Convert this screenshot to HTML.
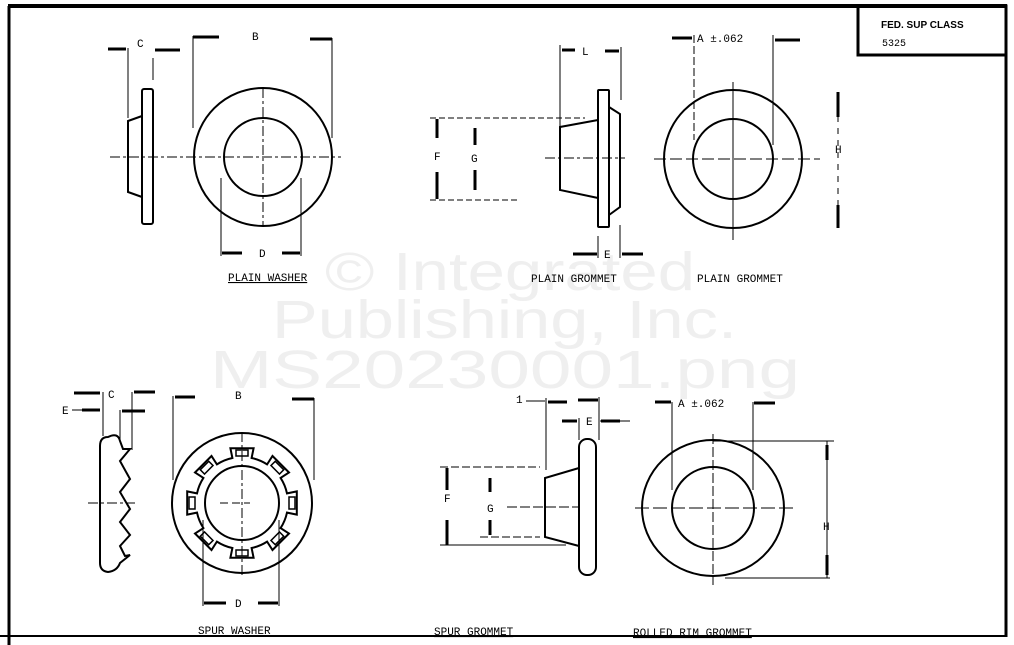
<!DOCTYPE html>
<html><head><meta charset="utf-8"><style>
html,body{margin:0;padding:0;background:#fff;}
svg{display:block}
text{font-family:"Liberation Mono",monospace;font-size:11px;fill:#000}
.wm{font-family:"Liberation Sans",sans-serif;font-size:54px;fill:#efefef}
</style></head><body>
<svg width="1014" height="645" viewBox="0 0 1014 645" xmlns="http://www.w3.org/2000/svg">
<rect width="1014" height="645" fill="#fff"/>
<text class="wm" x="325" y="290" textLength="370" lengthAdjust="spacingAndGlyphs">© Integrated</text>
<text class="wm" x="272" y="338" textLength="465" lengthAdjust="spacingAndGlyphs">Publishing, Inc.</text>
<text class="wm" x="210" y="388" textLength="590" lengthAdjust="spacingAndGlyphs">MS20230001.png</text>
<g stroke="#000" fill="none">
<!-- border -->
<line x1="8" y1="6" x2="1007" y2="6" stroke-width="4"/>
<line x1="9" y1="6" x2="9" y2="645" stroke-width="3"/>
<line x1="1006" y1="6" x2="1006" y2="637" stroke-width="3"/>
<line x1="0" y1="636" x2="1007" y2="636" stroke-width="2"/>
<rect x="858" y="6" width="148" height="49" stroke-width="3"/>

<!-- PLAIN WASHER -->
<g stroke-width="2">
<rect x="142" y="89" width="11" height="135" rx="2"/>
<polyline points="142,116 128,121 128,192 142,197"/>
<circle cx="263" cy="157" r="69"/>
<circle cx="263" cy="157" r="39"/>
</g>
<g stroke-width="1">
<line x1="110" y1="157" x2="341" y2="157" stroke-dasharray="10,3,3,3"/>
<line x1="263" y1="88" x2="263" y2="226" stroke-dasharray="10,3,3,3"/>
<line x1="128" y1="48" x2="128" y2="118"/><line x1="153" y1="58" x2="153" y2="80"/>
<line x1="193" y1="36" x2="193" y2="128"/><line x1="332" y1="38" x2="332" y2="138"/>
<line x1="221" y1="178" x2="221" y2="256"/><line x1="301" y1="178" x2="301" y2="256"/>
</g>
<g stroke-width="3">
<line x1="108" y1="49" x2="126" y2="49"/><line x1="155" y1="50" x2="180" y2="50"/>
<line x1="193" y1="37" x2="219" y2="37"/><line x1="310" y1="39" x2="332" y2="39"/>
<line x1="222" y1="253" x2="242" y2="253"/><line x1="282" y1="253" x2="300" y2="253"/>
</g>

<!-- PLAIN GROMMET side -->
<g stroke-width="2">
<rect x="598" y="90" width="11" height="137" rx="1"/>
<polyline points="598,120 560,127 560,190 598,198"/>
<polyline points="609,107 620,114 620,207 609,215"/>
</g>
<g stroke-width="1">
<line x1="560" y1="45" x2="560" y2="128"/><line x1="621" y1="47" x2="621" y2="100"/>
<line x1="598" y1="236" x2="598" y2="258"/><line x1="620" y1="225" x2="620" y2="258"/>
<line x1="430" y1="118" x2="585" y2="118" stroke-dasharray="6,3"/>
<line x1="430" y1="200" x2="520" y2="200" stroke-dasharray="6,3"/>
<line x1="545" y1="158" x2="625" y2="158" stroke-dasharray="10,3,3,3"/>
</g>
<g stroke-width="3">
<line x1="562" y1="50" x2="575" y2="50"/><line x1="605" y1="51" x2="619" y2="51"/>
<line x1="573" y1="254" x2="597" y2="254"/><line x1="622" y1="254" x2="643" y2="254"/>
<line x1="437" y1="119" x2="437" y2="138"/><line x1="437" y1="172" x2="437" y2="199"/>
<line x1="475" y1="128" x2="475" y2="145"/><line x1="475" y1="170" x2="475" y2="190"/>
</g>

<!-- PLAIN GROMMET front -->
<g stroke-width="2">
<circle cx="733" cy="159" r="69"/>
<circle cx="733" cy="159" r="40"/>
</g>
<g stroke-width="1">
<line x1="654" y1="159" x2="820" y2="159" stroke-dasharray="12,4"/>
<line x1="733" y1="82" x2="733" y2="240"/>
<line x1="694" y1="35" x2="694" y2="140" stroke-dasharray="8,3"/>
<line x1="773" y1="35" x2="773" y2="145"/>
<line x1="838" y1="92" x2="838" y2="228" stroke-dasharray="6,6"/>
</g>
<g stroke-width="3">
<line x1="672" y1="38" x2="692" y2="38"/><line x1="775" y1="40" x2="800" y2="40"/>
<line x1="838" y1="92" x2="838" y2="117"/><line x1="838" y1="205" x2="838" y2="228"/>
</g>

<!-- SPUR WASHER side -->
<path stroke-width="2" d="M108,437 Q118,432 120,441 L123,449 L130,449 L120,461 L130,479 L120,492 L130,509 L120,522 L130,535 L120,546 L125,556 L130,555 L120,563 Q117,571 108,572 Q100,571 100,563 L100,446 Q100,437 108,437 Z"/>
<g stroke-width="1">
<line x1="103" y1="392" x2="103" y2="436"/><line x1="120" y1="410" x2="120" y2="440"/>
<line x1="132" y1="392" x2="132" y2="450"/>
<line x1="88" y1="503" x2="135" y2="503" stroke-dasharray="10,3,3,3"/>
<line x1="72" y1="410" x2="84" y2="410"/>
</g>
<g stroke-width="3">
<line x1="74" y1="393" x2="100" y2="393"/><line x1="134" y1="392" x2="155" y2="392"/>
<line x1="82" y1="410" x2="100" y2="410"/><line x1="122" y1="411" x2="145" y2="411"/>
</g>

<!-- SPUR WASHER front -->
<g stroke-width="2">
<circle cx="242" cy="503" r="70"/>
<circle cx="242" cy="503" r="37"/>
<path d="M232.4,458 L230.4,448.2 L253.6,448.2 L251.6,458 A46 46 0 0 1 267.1,464.4 L272.5,456 L289,472.5 L280.6,477.9 A46 46 0 0 1 287,493.4 L296.8,491.4 L296.8,514.6 L287,512.6 A46 46 0 0 1 280.6,528.1 L289,533.5 L272.5,550 L267.1,541.6 A46 46 0 0 1 251.6,548 L253.6,557.8 L230.4,557.8 L232.4,548 A46 46 0 0 1 216.9,541.6 L211.5,550 L195,533.5 L203.4,528.1 A46 46 0 0 1 197,512.6 L187.2,514.6 L187.2,491.4 L197,493.4 A46 46 0 0 1 203.4,477.9 L195,472.5 L211.5,456 L216.9,464.4 A46 46 0 0 1 232.4,458 Z"/>
</g>
<g stroke-width="1.5">
<g id="slot"><rect x="236" y="450" width="12" height="6"/></g>
<use href="#slot" transform="rotate(45 242 503)"/>
<use href="#slot" transform="rotate(90 242 503)"/>
<use href="#slot" transform="rotate(135 242 503)"/>
<use href="#slot" transform="rotate(180 242 503)"/>
<use href="#slot" transform="rotate(225 242 503)"/>
<use href="#slot" transform="rotate(270 242 503)"/>
<use href="#slot" transform="rotate(315 242 503)"/>
</g>
<g stroke-width="1">
<line x1="242" y1="432" x2="242" y2="576" stroke-dasharray="10,3,3,3"/>
<line x1="220" y1="503" x2="250" y2="503" stroke-dasharray="8,4"/>
<line x1="173" y1="396" x2="173" y2="480"/><line x1="314" y1="398" x2="314" y2="480"/>
<line x1="203" y1="520" x2="203" y2="606"/><line x1="279" y1="520" x2="279" y2="606"/>
</g>
<g stroke-width="3">
<line x1="175" y1="397" x2="195" y2="397"/><line x1="292" y1="399" x2="314" y2="399"/>
<line x1="204" y1="603" x2="226" y2="603"/><line x1="258" y1="603" x2="278" y2="603"/>
</g>

<!-- SPUR GROMMET -->
<g stroke-width="2">
<rect x="579" y="439" width="17" height="136" rx="8"/>
<polyline points="579,468 545,478 545,537 579,546"/>
</g>
<g stroke-width="1">
<line x1="546" y1="398" x2="546" y2="470"/><line x1="579" y1="418" x2="579" y2="440"/>
<line x1="599" y1="397" x2="599" y2="440"/>
<line x1="440" y1="467" x2="540" y2="467" stroke-dasharray="8,3"/>
<line x1="440" y1="545" x2="566" y2="545"/>
<line x1="480" y1="537" x2="540" y2="537" stroke-dasharray="8,3"/>
<line x1="507" y1="507" x2="580" y2="507" stroke-dasharray="10,3"/>
<line x1="526" y1="401" x2="545" y2="401"/>
<line x1="600" y1="421" x2="630" y2="421"/>
</g>
<g stroke-width="3">
<line x1="548" y1="402" x2="567" y2="402"/><line x1="578" y1="400" x2="598" y2="400"/>
<line x1="562" y1="421" x2="577" y2="421"/><line x1="601" y1="421" x2="620" y2="421"/>
<line x1="447" y1="468" x2="447" y2="490"/><line x1="447" y1="520" x2="447" y2="545"/>
<line x1="490" y1="478" x2="490" y2="492"/><line x1="490" y1="520" x2="490" y2="535"/>
</g>

<!-- ROLLED RIM -->
<g stroke-width="2">
<ellipse cx="713" cy="508" rx="71" ry="68"/>
<circle cx="713" cy="508" r="41"/>
</g>
<g stroke-width="1">
<line x1="635" y1="508" x2="795" y2="508" stroke-dasharray="14,4"/>
<line x1="713" y1="434" x2="713" y2="585" stroke-dasharray="10,3"/>
<line x1="672" y1="402" x2="672" y2="490"/><line x1="753" y1="402" x2="753" y2="490"/>
<line x1="713" y1="441" x2="834" y2="441"/><line x1="725" y1="578" x2="830" y2="578"/>
<line x1="827" y1="441" x2="827" y2="578"/>
</g>
<g stroke-width="3">
<line x1="655" y1="402" x2="671" y2="402"/><line x1="754" y1="403" x2="775" y2="403"/>
<line x1="827" y1="445" x2="827" y2="460"/><line x1="827" y1="555" x2="827" y2="575"/>
</g>
</g>

<text x="881" y="28" style="font-family:'Liberation Sans',sans-serif;font-weight:bold;font-size:10px">FED. SUP CLASS</text>
<text x="882" y="46" style="font-size:10px">5325</text>
<text x="137" y="47">C</text><text x="252" y="40">B</text><text x="259" y="257">D</text>
<text x="228" y="281" text-decoration="underline">PLAIN WASHER</text>
<text x="582" y="55">L</text><text x="604" y="258">E</text><text x="434" y="160">F</text><text x="471" y="162">G</text>
<text x="531" y="282">PLAIN GROMMET</text>
<text x="697" y="42">A ±.062</text><text x="835" y="153">H</text>
<text x="697" y="282">PLAIN GROMMET</text>
<text x="108" y="398">C</text><text x="62" y="414">E</text><text x="235" y="399">B</text><text x="235" y="607">D</text>
<text x="198" y="634" text-decoration="underline">SPUR WASHER</text>
<text x="516" y="403">1</text><text x="586" y="425">E</text><text x="444" y="502">F</text><text x="487" y="512">G</text>
<text x="434" y="635" text-decoration="underline">SPUR GROMMET</text>
<text x="678" y="407">A ±.062</text><text x="823" y="530">H</text>
<text x="633" y="636" text-decoration="underline">ROLLED RIM GROMMET</text>
</svg>
</body></html>
